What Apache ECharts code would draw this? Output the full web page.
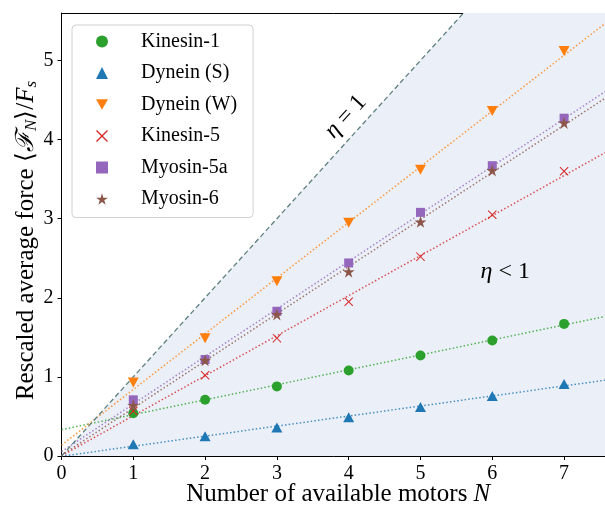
<!DOCTYPE html>
<html><head><meta charset="utf-8">
<script src="https://cdn.jsdelivr.net/npm/echarts@6/dist/echarts.min.js"></script>
<style>html,body{margin:0;padding:0;background:#fff}#c{width:605px;height:506px}</style>
</head><body><div id="c"></div>
<script>
const categories = ['Kinesin-1', 'Dynein (S)', 'Dynein (W)', 'Kinesin-5', 'Myosin-5a', 'Myosin-6'];
const motorsN = [1, 2, 3, 4, 5, 6, 7];
const kinesin1 = [0.54, 0.71, 0.88, 1.08, 1.27, 1.46, 1.67];
const dyneinS  = [0.15, 0.25, 0.36, 0.49, 0.62, 0.76, 0.91];
const dyneinW  = [0.93, 1.49, 2.21, 2.95, 3.62, 4.36, 5.12];
const kinesin5 = [0.57, 1.02, 1.49, 1.95, 2.52, 3.05, 3.60];
const myosin5a = [0.71, 1.22, 1.83, 2.44, 3.08, 3.67, 4.27];
const myosin6  = [0.64, 1.21, 1.79, 2.33, 2.96, 3.61, 4.21];
const fitSlope     = [0.189, 0.127, 0.704, 0.506, 0.601, 0.596];
const fitIntercept = [0.333, -0.003, 0.137, 0.003, 0.056, 0.010];
const xTicks = [0, 1, 2, 3, 4, 5, 6, 7];
const yTicks = [0, 1, 2, 3, 4, 5];
const xMax = 7.57, yMax = 5.6;

const values = [kinesin1, dyneinS, dyneinW, kinesin5, myosin5a, myosin6];
const colors = ['#2ca02c', '#1f77b4', '#ff7f0e', '#d62728', '#9467bd', '#8c564b'];
const starPath = 'path://M50,0 L61.17,34.63 L97.55,34.55 L68.07,55.87 L79.39,90.45 L50,69 L20.61,90.45 L31.93,55.87 L2.45,34.55 L38.83,34.63 Z';
const crossPath = 'path://M0,0.8 L0.8,0 L5,4.2 L9.2,0 L10,0.8 L5.8,5 L10,9.2 L9.2,10 L5,5.8 L0.8,10 L0,9.2 L4.2,5 Z';
const downTri = 'path://M0,0 L10,0 L5,8.7 Z';
const symbols = ['circle', 'triangle', downTri, crossPath, 'rect', starPath];
const sizes = [10, [11, 10], [11, 10], 9, 9, 12];

const FONT = 'Liberation Serif';
const series = [];
series.push({
  type: 'line', name: 'region', data: [[0, 0], [yMax, yMax], [xMax, yMax]],
  symbol: 'none', lineStyle: {width: 0, opacity: 0},
  areaStyle: {color: '#ebf0f8', opacity: 1, origin: 'start'}, z: 1, silent: true
});
categories.forEach((name, k) => {
  series.push({
    type: 'line', name: 'fit ' + name,
    data: [[0, fitIntercept[k]], [xMax, fitIntercept[k] + fitSlope[k] * xMax]],
    symbol: 'none', lineStyle: {color: colors[k], width: 1.5, type: [1.5, 2.2], opacity: 0.8},
    z: 2, silent: true
  });
});
series.push({
  type: 'line', name: 'eta', data: [[0, 0], [yMax, yMax]], symbol: 'none',
  lineStyle: {color: '#5f7f7f', width: 1.3, type: [5, 3]}, z: 3, silent: true
});
categories.forEach((name, k) => {
  series.push({
    type: 'scatter', name: name, data: motorsN.map((n, i) => [n, values[k][i]]),
    symbol: symbols[k], symbolSize: sizes[k], itemStyle: {color: colors[k], opacity: 1},
    z: 4
  });
});

const chart = echarts.init(document.getElementById('c'), null, {renderer: 'canvas'});
const axisText = {color: '#000', fontFamily: FONT, fontSize: 20};
chart.setOption({
  animation: false,
  backgroundColor: '#fff',
  grid: {left: 61.5, top: 13, right: 0, bottom: 50, containLabel: false, outerBoundsMode: 'none'},
  xAxis: [{
    type: 'value', min: 0, max: xMax, interval: 1, position: 'bottom',
    splitLine: {show: false},
    axisLine: {show: true, onZero: false, lineStyle: {color: '#000', width: 1}},
    axisTick: {show: true, length: 4, lineStyle: {color: '#000'}, customValues: xTicks},
    axisLabel: Object.assign({margin: 8, customValues: xTicks}, axisText),
    name: '{n|Number of available motors }{i|N}', nameLocation: 'middle', nameGap: 26,
    nameMoveOverlap: false,
    nameTextStyle: {padding: [0, 0, 0, 10], rich: {
      n: {fontFamily: FONT, fontSize: 25, color: '#000'},
      i: {fontFamily: FONT, fontSize: 25, color: '#000', fontStyle: 'italic'}}}
  }, {
    type: 'value', min: 0, max: xMax, position: 'top',
    axisLine: {show: true, onZero: false, lineStyle: {color: '#000', width: 1}},
    axisTick: {show: false}, axisLabel: {show: false}, splitLine: {show: false}
  }],
  yAxis: {
    type: 'value', min: 0, max: yMax, interval: 1,
    splitLine: {show: false},
    axisLine: {show: true, onZero: false, lineStyle: {color: '#000', width: 1}},
    axisTick: {show: true, length: 4, lineStyle: {color: '#000'}, customValues: yTicks},
    axisLabel: Object.assign({margin: 8, customValues: yTicks}, axisText),
    name: '{n|Rescaled average force ⟨}{i|ℱ}{sub|N}{n|⟩/}{i|F}{sub|s}',
    nameLocation: 'middle', nameRotate: 90, nameGap: 21, nameMoveOverlap: false,
    nameTextStyle: {padding: [0, 12, 0, 0], rich: {
      n: {fontFamily: FONT, fontSize: 25, color: '#000', lineHeight: 28},
      i: {fontFamily: FONT, fontSize: 25, color: '#000', fontStyle: 'italic', lineHeight: 28},
      sub: {fontFamily: FONT, fontSize: 17, color: '#000', fontStyle: 'italic', verticalAlign: 'bottom', lineHeight: 15}}}
  },
  legend: {
    data: categories, orient: 'vertical', left: 72, top: 25,
    padding: [6, 16, 8, 24], itemGap: 10.5, itemWidth: 12, itemHeight: 12,
    backgroundColor: 'rgba(255,255,255,0.85)', borderColor: '#d0d0d0', borderWidth: 1, borderRadius: 4,
    textStyle: {fontFamily: FONT, fontSize: 20, color: '#000', lineHeight: 21, padding: [0, 0, 0, 28]},
    selectedMode: false
  },
  series: series
});

const p1 = chart.convertToPixel({gridIndex: 0}, [3.96, 4.29]);
const p2 = chart.convertToPixel({gridIndex: 0}, [6.18, 2.33]);
const a0 = chart.convertToPixel({gridIndex: 0}, [0, 0]);
const a1 = chart.convertToPixel({gridIndex: 0}, [1, 1]);
const ang = Math.atan2(a0[1] - a1[1], a1[0] - a0[0]);
chart.setOption({
  graphic: [{
    type: 'text', x: p1[0], y: p1[1], rotation: ang, z: 10,
    style: {text: '{i|η}{n| = 1}', align: 'center', verticalAlign: 'middle',
      rich: {i: {fontFamily: FONT, fontSize: 24, fontStyle: 'italic', fill: '#000'},
             n: {fontFamily: FONT, fontSize: 24, fill: '#000'}}}
  }, {
    type: 'text', x: p2[0], y: p2[1], z: 10,
    style: {text: '{i|η}{n| < 1}', align: 'center', verticalAlign: 'middle',
      rich: {i: {fontFamily: FONT, fontSize: 24, fontStyle: 'italic', fill: '#000'},
             n: {fontFamily: FONT, fontSize: 24, fill: '#000'}}}
  }]
});
</script></body></html>
